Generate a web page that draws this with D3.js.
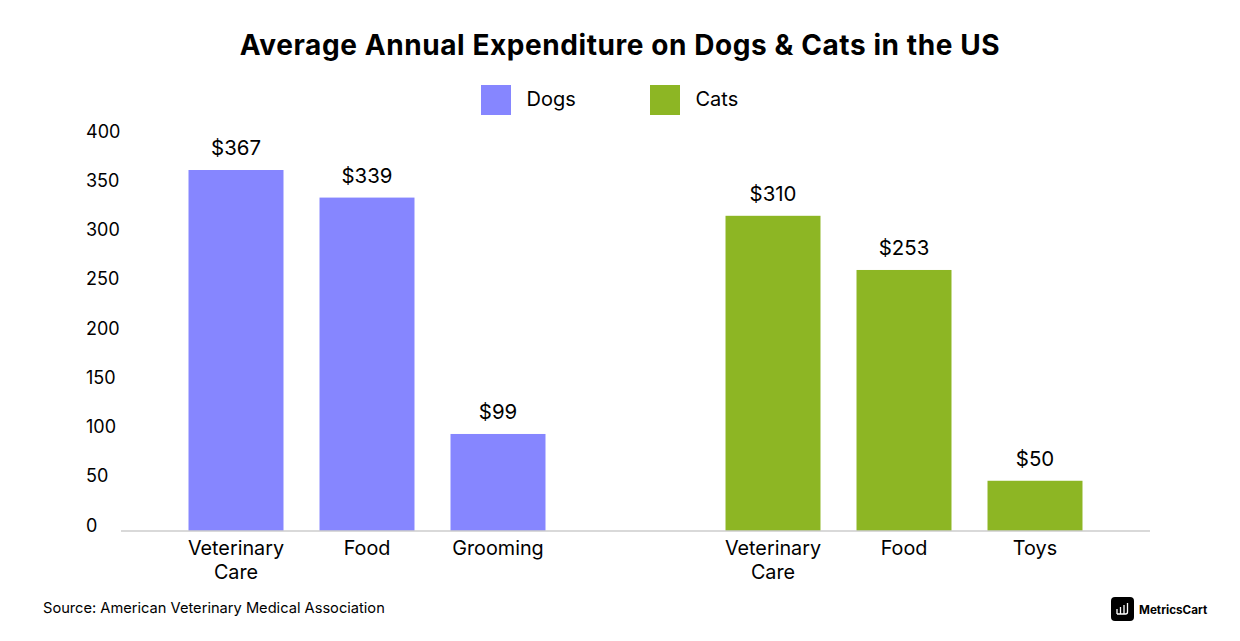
<!DOCTYPE html>
<html><head><meta charset="utf-8">
<script src="https://cdn.jsdelivr.net/npm/d3@7/dist/d3.min.js"></script>
<style>html,body{margin:0;background:#fff}svg{display:block}text{font-family:Inter,"Noto Sans",sans-serif;fill:#000}</style>
</head><body><svg id="c" width="1240" height="641"></svg>
<script>
const titleText = "Average Annual Expenditure on Dogs & Cats in the US";
const sourceText = "Source: American Veterinary Medical Association";
const brandText = "MetricsCart";
const dogCategories = ["Veterinary Care", "Food", "Grooming"];
const catCategories = ["Veterinary Care", "Food", "Toys"];
const dogLabels = ["$367", "$339", "$99"];
const catLabels = ["$310", "$253", "$50"];
const dogBarValues = [366.5, 338.5, 98.5];
const catBarValues = [320, 265, 51];
const yTicks = [0, 50, 100, 150, 200, 250, 300, 350, 400];
const seriesNames = ["Dogs", "Cats"];
const seriesColors = ["#8686FF", "#8DB624"];

const svg = d3.select("#c");
const y = d3.scaleLinear().domain([0, 400]).range([531, 137]);
const band = (d, r) => d3.scaleBand().domain(d).range(r).paddingInner(0.275).paddingOuter(0.1375);
const groups = [
  {cats: dogCategories, vals: dogBarValues, labels: dogLabels, color: seriesColors[0], x: band(dogCategories, [170.5, 563.5])},
  {cats: catCategories, vals: catBarValues, labels: catLabels, color: seriesColors[1], x: band(catCategories, [707.5, 1100.5])}
];

svg.append("text").attr("x", 620).attr("y", 55).attr("text-anchor", "middle")
  .style("font-size", "28px").style("font-weight", 700).style("letter-spacing", "0.58px").text(titleText);

// legend
const legendX = [481, 650];
seriesNames.forEach((n, i) => {
  const top = 85;
  svg.append("rect").attr("x", legendX[i]).attr("y", top).attr("width", 30).attr("height", 30).attr("fill", seriesColors[i]);
  svg.append("text").attr("x", legendX[i] + 45.5).attr("y", top + 21).style("font-size", "20px").text(n);
});

// y tick labels (no axis line)
const yAxis = d3.axisLeft(y).tickValues(yTicks).tickSize(0).tickPadding(0);
const yg = svg.append("g").attr("transform", "translate(86,-6.4)").call(yAxis);
yg.select(".domain").remove();
yg.selectAll("text").attr("text-anchor", "start").attr("x", 0).style("font-size", "18px").attr("dy", "0.36em");

// bars, labels and category axis
groups.forEach(g => {
  const bars = g.cats.map((c, i) => ({c, v: g.vals[i], l: g.labels[i]}));
  const s = svg.append("g");
  s.selectAll("rect").data(bars).join("rect")
    .attr("x", d => g.x(d.c)).attr("width", g.x.bandwidth())
    .attr("y", d => y(d.v)).attr("height", d => y(0) - y(d.v)).attr("fill", g.color);
  s.selectAll(".v").data(bars).join("text").attr("class", "v")
    .attr("x", d => g.x(d.c) + g.x.bandwidth() / 2).attr("y", d => y(d.v) - 15)
    .attr("text-anchor", "middle").style("font-size", "20.4px").text(d => d.l);
  const t = s.selectAll(".t").data(bars).join("text").attr("class", "t")
    .attr("text-anchor", "middle").style("font-size", "19.8px");
  t.each(function(d) {
    const cx = g.x(d.c) + g.x.bandwidth() / 2;
    d.c.split(" ").forEach((w, i) => {
      d3.select(this).append("tspan").attr("x", cx).attr("y", 555 + i * 24).text(w);
    });
  });
});

// baseline
svg.append("line").attr("x1", 121).attr("x2", 1150).attr("y1", 531).attr("y2", 531)
  .attr("stroke", "#cccccc").attr("stroke-width", 1.5);

svg.append("text").attr("x", 43).attr("y", 613).style("font-size", "14.65px").text(sourceText);

// brand mark
const logo = svg.append("g").attr("transform", "translate(1111,597)");
logo.append("rect").attr("width", 23).attr("height", 24).attr("rx", 4).attr("fill", "#000");
logo.append("path").attr("d", "M6 12v5M9.5 10v7M13 8v9M16.5 6v9q0 2-2 2H6").attr("fill", "none").attr("stroke", "#fff").attr("stroke-width", 1.3);
svg.append("text").attr("x", 1139).attr("y", 614).style("font-size", "11.7px").style("font-weight", 700).text(brandText);
</script></body></html>
